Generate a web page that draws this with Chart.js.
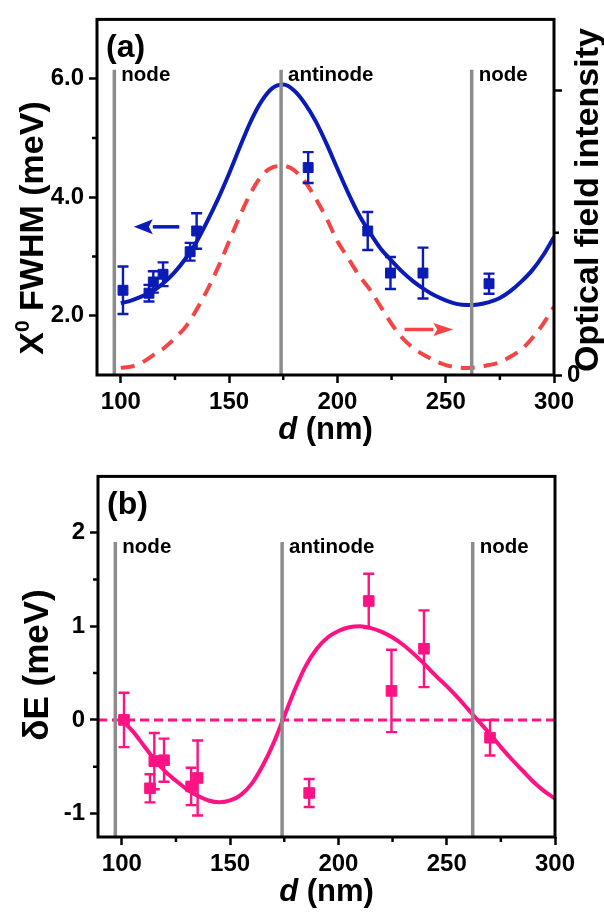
<!DOCTYPE html>
<html>
<head>
<meta charset="utf-8">
<script src="https://cdn.jsdelivr.net/npm/chart.js@4.4.1/dist/chart.umd.min.js"></script>
<style>
  body { margin: 0; background: #fff; }
  .panel { position: absolute; left: 0; width: 604px; }
</style>
</head>
<body>
<div class="panel" style="top:0;height:457px"><canvas id="panelA"></canvas></div>
<div class="panel" style="top:457px;height:458px"><canvas id="panelB"></canvas></div>
<script>
// node / antinode positions (nm)
const nodeD = [97, 174, 262];
const nodeNames = ['node', 'antinode', 'node'];

// measured samples
const sampleD = [101, 113, 115, 119.5, 132, 135, 186.5, 214, 224.5, 239.5, 270];
const fwhm = [2.43, 2.38, 2.57, 2.70, 3.08, 3.43, 4.50, 3.43, 2.72, 2.72, 2.54];
const fwhmErr = [0.40, 0.14, 0.18, 0.20, 0.15, 0.30, 0.26, 0.32, 0.27, 0.43, 0.17];
const shiftE = [0.0, -0.73, -0.44, -0.43, -0.71, -0.62, -0.78, 1.27, 0.31, 0.76, -0.19];
const shiftErr = [0.29, 0.15, 0.30, 0.23, 0.20, 0.40, 0.15, 0.29, 0.44, 0.41, 0.19];

// model curves
const curveD = [100, 105, 110, 115, 120, 125, 130, 135, 140, 145, 150, 155, 160, 165, 170, 175, 180, 185, 190, 195,
                200, 205, 210, 215, 220, 225, 230, 235, 240, 245, 250, 255, 260, 265, 270, 275, 280, 285, 290, 295, 300];
const fwhmFit = [2.21, 2.26, 2.33, 2.42, 2.56, 2.74, 2.97, 3.25, 3.60, 3.98, 4.40, 4.85, 5.28, 5.62, 5.84, 5.90, 5.80, 5.58, 5.28, 4.90,
                 4.48, 4.07, 3.70, 3.40, 3.13, 2.93, 2.74, 2.58, 2.45, 2.34, 2.26, 2.20, 2.18, 2.19, 2.23, 2.30, 2.42, 2.58, 2.77, 3.02, 3.33];
const fieldIntensity = [0.025, 0.03, 0.045, 0.07, 0.095, 0.13, 0.17, 0.23, 0.30, 0.38, 0.47, 0.56, 0.64, 0.70, 0.73, 0.735, 0.72, 0.68, 0.62, 0.55,
                        0.47, 0.41, 0.35, 0.30, 0.24, 0.18, 0.13, 0.095, 0.07, 0.05, 0.035, 0.027, 0.025, 0.028, 0.035, 0.045, 0.065, 0.09, 0.13, 0.18, 0.24];
const shiftFit = [0.0, -0.12, -0.27, -0.42, -0.55, -0.65, -0.74, -0.81, -0.86, -0.88, -0.86, -0.80, -0.68, -0.49, -0.25, 0.04, 0.33, 0.58, 0.76, 0.88,
                  0.95, 0.99, 1.0, 0.98, 0.94, 0.88, 0.80, 0.70, 0.59, 0.47, 0.36, 0.24, 0.11, -0.02, -0.15, -0.29, -0.42, -0.54, -0.66, -0.76, -0.84];

// ticks
const xTicks = [100, 150, 200, 250, 300];
const xMinor = [125, 175, 225, 275];
const fwhmTicks = [2, 4, 6];
const fwhmMinor = [3, 5];
const intensityTicks = [0, 1];
const intensityMinor = [0.5];
const shiftTicks = [-1, 0, 1, 2];
const shiftMinor = [-0.5, 0.5, 1.5];

const FONT = "'Liberation Sans', Arial, sans-serif";
const BLUE = '#0b1bb5', RED = '#f44545', PINK = '#ff1283', GREY = '#8c8c8c';

function xy(xs, ys) { return xs.map((x, i) => ({ x: x, y: ys[i] })); }

function tickFont() { return { family: FONT, size: 24, weight: 'bold' }; }

function xAxis(height) {
  return {
    type: 'linear', min: 89, max: 300, position: 'bottom',
    afterBuildTicks: s => { s.ticks = xTicks.map(v => ({ value: v })); },
    afterFit: s => { s.height = height; },
    ticks: { color: '#000', font: tickFont(), padding: 5, maxRotation: 0 },
    grid: { drawOnChartArea: false, tickLength: 8, tickWidth: 2.5, tickColor: '#000' },
    border: { display: false }
  };
}

function yAxis(min, max, ticks, fmt, width, pos) {
  return {
    type: 'linear', min: min, max: max, position: pos,
    afterBuildTicks: s => { s.ticks = ticks.map(v => ({ value: v })); },
    afterFit: s => { s.width = width; },
    ticks: { color: '#000', font: tickFont(), padding: 5, callback: fmt },
    grid: { drawOnChartArea: false, tickLength: 8, tickWidth: 2.5, tickColor: '#000' },
    border: { display: false }
  };
}

// error bars for datasets that carry an "errors" array
const errorBars = {
  id: 'errorBars',
  afterDatasetsDraw(chart) {
    const ctx = chart.ctx;
    chart.data.datasets.forEach((ds, i) => {
      if (!ds.errors) return;
      const meta = chart.getDatasetMeta(i);
      const ys = chart.scales[meta.yAxisID];
      ctx.save();
      ctx.strokeStyle = ds.borderColor;
      ctx.lineWidth = 2.4;
      meta.data.forEach((pt, j) => {
        const v = ds.data[j].y, e = ds.errors[j];
        const top = ys.getPixelForValue(v + e), bot = ys.getPixelForValue(v - e);
        ctx.beginPath();
        ctx.moveTo(pt.x, top); ctx.lineTo(pt.x, bot);
        ctx.moveTo(pt.x - 5.5, top); ctx.lineTo(pt.x + 5.5, top);
        ctx.moveTo(pt.x - 5.5, bot); ctx.lineTo(pt.x + 5.5, bot);
        ctx.stroke();
      });
      ctx.restore();
    });
  }
};

function rotatedTitle(ctx, parts, bx, cy) {
  let total = 0;
  parts.forEach(p => { ctx.font = p.font; p.w = ctx.measureText(p.text).width; total += p.w; });
  ctx.save();
  ctx.translate(bx, cy);
  ctx.rotate(-Math.PI / 2);
  ctx.textAlign = 'left';
  ctx.textBaseline = 'alphabetic';
  let x = -total / 2;
  parts.forEach(p => { ctx.font = p.font; ctx.fillText(p.text, x, -(p.rise || 0)); x += p.w; });
  ctx.restore();
}

function decorations(o) {
  return {
    id: 'decor',
    afterDraw(chart) {
      const ctx = chart.ctx, a = chart.chartArea;
      const x = chart.scales.x, y = chart.scales.y;
      ctx.save();
      ctx.strokeStyle = '#000';
      ctx.fillStyle = '#000';
      ctx.lineWidth = 3;
      ctx.strokeRect(a.left, a.top, a.right - a.left, a.bottom - a.top);

      ctx.lineWidth = 2.5;
      ctx.beginPath();
      xMinor.forEach(v => { const p = x.getPixelForValue(v); ctx.moveTo(p, a.bottom); ctx.lineTo(p, a.bottom + 5); });
      o.yMinor.forEach(v => { const p = y.getPixelForValue(v); ctx.moveTo(a.left, p); ctx.lineTo(a.left - 5, p); });
      if (o.y2Minor) {
        const y2 = chart.scales.y2;
        o.y2Minor.forEach(v => { const p = y2.getPixelForValue(v); ctx.moveTo(a.right, p); ctx.lineTo(a.right + 5, p); });
      }
      ctx.stroke();

      // node labels
      ctx.font = 'bold 20.5px ' + FONT;
      ctx.textAlign = 'left';
      ctx.textBaseline = 'alphabetic';
      const ly = y.getPixelForValue(o.nodeTop) + 11;
      nodeD.forEach((d, i) => ctx.fillText(nodeNames[i], x.getPixelForValue(d) + 7, ly));

      // panel tag
      ctx.font = 'bold 32px ' + FONT;
      ctx.fillText(o.tag, a.left + 9, a.top + 38);

      // x title: d (nm)
      const f1 = 'italic bold 31px ' + FONT, f2 = 'bold 31px ' + FONT;
      ctx.font = f1; const w1 = ctx.measureText('d').width;
      ctx.font = f2; const w2 = ctx.measureText(' (nm)').width;
      const cx = (a.left + a.right) / 2 - (w1 + w2) / 2, by = a.bottom + 64;
      ctx.font = f1; ctx.fillText('d', cx, by);
      ctx.font = f2; ctx.fillText(' (nm)', cx + w1, by);

      o.titles(ctx, a, chart);
      ctx.restore();
    }
  };
}

function arrow(ctx, x0, x1, yp, color, head, half) {
  const dir = Math.sign(x1 - x0);
  ctx.save();
  ctx.strokeStyle = color; ctx.fillStyle = color; ctx.lineWidth = 3.5;
  ctx.beginPath(); ctx.moveTo(x0, yp); ctx.lineTo(x1 - dir * head, yp); ctx.stroke();
  ctx.beginPath();
  ctx.moveTo(x1, yp);
  ctx.lineTo(x1 - dir * head, yp - half);
  ctx.lineTo(x1 - dir * (head - 4), yp);
  ctx.lineTo(x1 - dir * head, yp + half);
  ctx.closePath(); ctx.fill();
  ctx.restore();
}

const arrows = {
  id: 'arrows',
  afterDatasetsDraw(chart) {
    const x = chart.scales.x, y = chart.scales.y, y2 = chart.scales.y2, ctx = chart.ctx;
    arrow(ctx, x.getPixelForValue(127), x.getPixelForValue(106), y.getPixelForValue(3.5), BLUE, 19, 7.5);
    arrow(ctx, x.getPixelForValue(231), x.getPixelForValue(253.5), y2.getPixelForValue(0.16), RED, 20, 6.5);
  }
};

function nodeLines(bottom, top) {
  return nodeD.map(d => ({
    data: [{ x: d, y: bottom }, { x: d, y: top }],
    borderColor: GREY, borderWidth: 3.5, pointRadius: 0, order: 1
  }));
}

new Chart(document.getElementById('panelA'), {
  type: 'line',
  data: {
    datasets: [
      { data: xy(sampleD, fwhm), errors: fwhmErr, showLine: false, pointStyle: 'rect', pointRadius: 7,
        backgroundColor: BLUE, borderColor: BLUE, yAxisID: 'y', order: 0 },
      ...nodeLines(1, 6.15),
      { data: xy(curveD, fwhmFit), borderColor: BLUE, borderWidth: 4, pointRadius: 0, cubicInterpolationMode: 'monotone',
        yAxisID: 'y', order: 2 },
      { data: xy(curveD, fieldIntensity), borderColor: RED, borderWidth: 4, borderDash: [14, 9], pointRadius: 0,
        cubicInterpolationMode: 'monotone', yAxisID: 'y2', order: 3 }
    ]
  },
  options: {
    responsive: true, maintainAspectRatio: false, animation: false,
    layout: { padding: { top: 7, left: 0, right: 0, bottom: 0 } },
    plugins: { legend: { display: false }, tooltip: { enabled: false } },
    scales: {
      x: xAxis(82),
      y: yAxis(1, 7, fwhmTicks, v => v.toFixed(1), 97, 'left'),
      y2: yAxis(0, 1.25, intensityTicks, v => (v === 0 ? '0' : ''), 50, 'right')
    }
  },
  plugins: [errorBars, arrows, decorations({
    tag: '(a)', nodeTop: 6.15, yMinor: fwhmMinor, y2Minor: intensityMinor,
    titles(ctx) {
      const big = 'bold 34px ' + FONT, sup = 'bold 21px ' + FONT;
      rotatedTitle(ctx, [{ text: 'X', font: big }, { text: '0', font: sup, rise: 14 }, { text: ' FWHM (meV)', font: big }], 43, 228);
      rotatedTitle(ctx, [{ text: 'Optical field intensity', font: big }], 598, 200);
    }
  })]
});

new Chart(document.getElementById('panelB'), {
  type: 'line',
  data: {
    datasets: [
      { data: xy(sampleD, shiftE), errors: shiftErr, showLine: false, pointStyle: 'rect', pointRadius: 7.5,
        backgroundColor: PINK, borderColor: PINK, order: 0 },
      ...nodeLines(-1.25, 1.9),
      { data: xy(curveD, shiftFit), borderColor: PINK, borderWidth: 4, pointRadius: 0, cubicInterpolationMode: 'monotone', order: 2 },
      { data: [{ x: 89, y: 0 }, { x: 300, y: 0 }], borderColor: PINK, borderWidth: 3, borderDash: [9, 5], pointRadius: 0, order: 3 }
    ]
  },
  options: {
    responsive: true, maintainAspectRatio: false, animation: false,
    layout: { padding: { top: 12, left: 0, right: 49, bottom: 0 } },
    plugins: { legend: { display: false }, tooltip: { enabled: false } },
    scales: {
      x: xAxis(78),
      y: yAxis(-1.25, 2.6, shiftTicks, v => String(v), 98, 'left')
    }
  },
  plugins: [errorBars, decorations({
    tag: '(b)', nodeTop: 1.9, yMinor: shiftMinor,
    titles(ctx) {
      rotatedTitle(ctx, [{ text: 'δE (meV)', font: 'bold 35px ' + FONT }], 48, 208);
    }
  })]
});
</script>
</body>
</html>
